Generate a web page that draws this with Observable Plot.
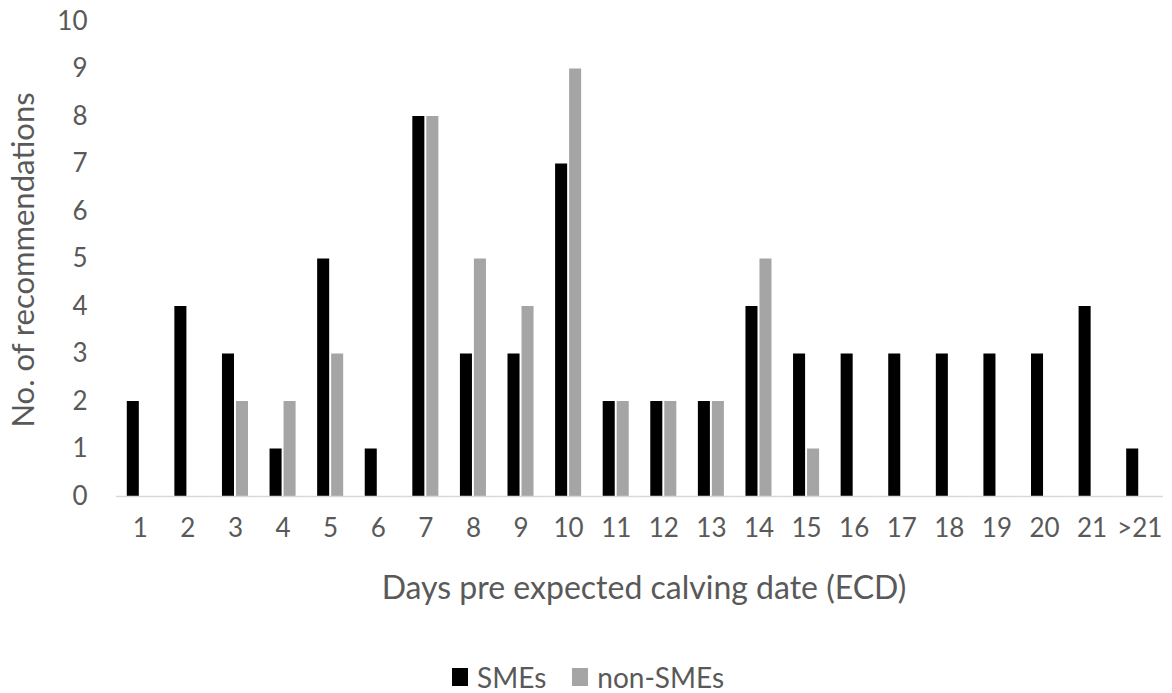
<!DOCTYPE html>
<html>
<head>
<meta charset="utf-8">
<script src="https://cdn.jsdelivr.net/npm/d3@7"></script>
<script src="https://cdn.jsdelivr.net/npm/@observablehq/plot@0.6"></script>
<style>
  body { margin: 0; background: #fff; font-family: Lato, "Open Sans", sans-serif; }
  #wrap { position: relative; width: 1172px; height: 693px; overflow: hidden; }
  #ytitle {
    position: absolute; left: 23px; top: 260px;
    transform: translate(-50%, -50%) rotate(-90deg);
    white-space: nowrap; font-size: 31px; color: #595959; line-height: 1.2;
  }
  #xtitle {
    position: absolute; left: 644px; top: 587px; transform: translate(-50%, -50%);
    white-space: nowrap; font-size: 32px; color: #595959; line-height: 1.2;
  }
  #legend {
    position: absolute; left: 452px; top: 677px; transform: translateY(-50%);
    display: flex; gap: 26px; font-size: 28px; color: #595959; white-space: nowrap; line-height: 1;
  }
  #legend span.item { display: flex; align-items: center; gap: 9px; }
  #legend span.sw { display: inline-block; width: 16px; height: 18px; }
</style>
</head>
<body>
<div id="wrap">
  <div id="chart"></div>
  <div id="ytitle">No. of recommendations</div>
  <div id="xtitle">Days pre expected calving date (ECD)</div>
  <div id="legend"></div>
</div>
<script>
// Days before the expected calving date
const days = ["1","2","3","4","5","6","7","8","9","10","11","12","13","14","15","16","17","18","19","20","21",">21"];
// Number of recommendations per day, by group
const smes    = [2,4,3,1,5,1,8,3,3,7,2,2,2,4,3,3,3,3,3,3,4,1];
const nonSmes = [0,0,2,2,3,0,8,5,4,9,2,2,2,5,1,0,0,0,0,0,0,0];
const groups = ["SMEs", "non-SMEs"];
const colors = ["#000000", "#a5a5a5"];
const yTicks = [0,1,2,3,4,5,6,7,8,9,10];

const data = [];
days.forEach((d, i) => {
  data.push({day: d, group: groups[0], value: smes[i]});
  data.push({day: d, group: groups[1], value: nonSmes[i]});
});

const chart = Plot.plot({
  width: 1172,
  height: 600,
  marginLeft: 116,
  marginRight: 9,
  marginTop: 21,
  marginBottom: 104,
  style: {fontFamily: "Lato, 'Open Sans', sans-serif", fontSize: "26px", color: "#595959", background: "#fff"},
  fx: {domain: days, padding: 0, round: false, label: null},
  x: {domain: groups, axis: null, paddingInner: 0.14, paddingOuter: 0.77, round: false},
  y: {domain: [0, 10], label: null},
  color: {domain: groups, range: colors},
  marks: [
    Plot.barY(data, {fx: "day", x: "group", y: "value", fill: "group"}),
    Plot.ruleY([0], {stroke: "#d9d9d9", strokeWidth: 1.5}),
    Plot.axisFx({anchor: "bottom", tickSize: 0, tickPadding: 22, label: null, fontSize: 26}),
    Plot.axisY(yTicks, {anchor: "left", tickSize: 0, tickPadding: 29, label: null, fontSize: 26})
  ]
});
document.getElementById("chart").appendChild(chart);

const legend = document.getElementById("legend");
groups.forEach((g, i) => {
  const item = document.createElement("span");
  item.className = "item";
  const sw = document.createElement("span");
  sw.className = "sw";
  sw.style.background = colors[i];
  item.appendChild(sw);
  item.appendChild(document.createTextNode(g));
  legend.appendChild(item);
});
</script>
</body>
</html>
